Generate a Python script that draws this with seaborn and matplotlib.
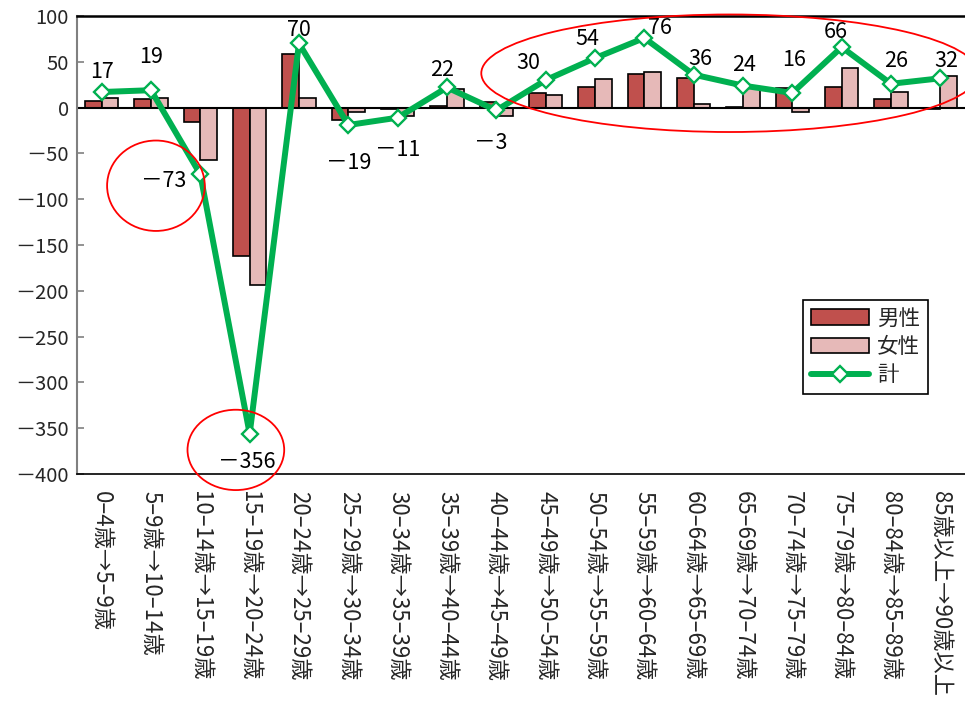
import numpy as np
import pandas as pd
import matplotlib
matplotlib.use("Agg")
import matplotlib.pyplot as plt
from matplotlib.patches import Ellipse
from matplotlib.ticker import FuncFormatter
import seaborn as sns

# Age-group transitions (cohort change)
categories = [
    "0–4歳→5–9歳", "5–9歳→10–14歳", "10–14歳→15–19歳", "15–19歳→20–24歳",
    "20–24歳→25–29歳", "25–29歳→30–34歳", "30–34歳→35–39歳", "35–39歳→40–44歳",
    "40–44歳→45–49歳", "45–49歳→50–54歳", "50–54歳→55–59歳", "55–59歳→60–64歳",
    "60–64歳→65–69歳", "65–69歳→70–74歳", "70–74歳→75–79歳", "75–79歳→80–84歳",
    "80–84歳→85–89歳", "85歳以上→90歳以上",
]
male = [7, 9, -16, -162, 59, -14, -2, 2, 6, 16, 23, 37, 32, 1, 21, 23, 9, -2]
female = [10, 10, -57, -194, 11, -5, -9, 20, -9, 14, 31, 39, 4, 23, -5, 43, 17, 34]
total = [17, 19, -73, -356, 70, -19, -11, 22, -3, 30, 54, 76, 36, 24, 16, 66, 26, 32]

series_names = ["男性", "女性"]
line_name = "計"
yticks = list(range(-400, 101, 50))

# label offsets in pixels (dx, dy) relative to each point on the total line
label_offsets = [(0, 20), (0, 33), (-37, -7), (-3, -28), (0, 13), (0, -38),
                 (0, -32), (-5, 17), (-6, -33), (-17, 17), (-8, 19), (16, 10),
                 (7, 16), (1, 21), (2, 33), (-6, 15), (5, 23), (6, 17)]

sns.set_theme(style="white")
plt.rcParams["font.family"] = ["Noto Sans CJK JP", "DejaVu Sans"]


def signed(v):
    return f"{v:g}".replace("-", "－")


df = pd.DataFrame({
    "区分": categories * 2,
    "性別": [series_names[0]] * len(categories) + [series_names[1]] * len(categories),
    "人数": male + female,
})

fig = plt.figure(figsize=(9.65, 7.02), dpi=100)
ax = fig.add_axes([77 / 965, 1 - 474 / 702, 1 - 77 / 965, (474 - 16) / 702])

sns.barplot(data=df, x="区分", y="人数", hue="性別", hue_order=series_names,
            palette=["#C0504D", "#E6B9B8"], saturation=1, width=0.68, gap=0,
            edgecolor="black", linewidth=1.2, ax=ax)

x_pos = np.arange(len(categories))
sns.lineplot(x=x_pos, y=total, color="#00B050", linewidth=4.3, marker="D",
             markersize=8.5, markerfacecolor="white", markeredgecolor="#00B050",
             markeredgewidth=1.7, label=line_name, ax=ax, zorder=5)

ax.axhline(0, color="black", linewidth=1.5, zorder=2)

for xi, val, (dx, dy) in zip(x_pos, total, label_offsets):
    ax.annotate(signed(val), (xi, val), xytext=(dx, dy),
                textcoords="offset pixels", ha="center", va="center",
                fontsize=15.5, color="black", zorder=6)

# red emphasis ellipses
for cx, cy, w, h in [(12.73, 37.5, 10.07, 128.3), (1.10, -85.3, 1.98, 98.7),
                     (2.72, -373.7, 1.96, 87.7)]:
    ax.add_patch(Ellipse((cx, cy), w, h, fill=False, edgecolor="red",
                         linewidth=1.3, clip_on=False, zorder=7))

ax.set_xlim(-0.5, len(categories) - 0.5)
ax.set_ylim(-400, 100)
ax.set_yticks(yticks)
ax.yaxis.set_major_formatter(FuncFormatter(lambda v, _: signed(v)))
ax.set_xlabel("")
ax.set_ylabel("")
ax.tick_params(axis="y", direction="in", length=5, width=1.2, color="#808080",
               labelsize=14.5, pad=6, left=True)
ax.tick_params(axis="x", length=0, labelsize=16, pad=12)
for lbl in ax.get_xticklabels():
    lbl.set_rotation(-90)
    lbl.set_va("top")
    lbl.set_ha("center")

ax.spines["left"].set_color("#808080")
ax.spines["left"].set_linewidth(1.5)
ax.spines["top"].set_color("black")
ax.spines["top"].set_linewidth(1.8)
ax.spines["bottom"].set_color("black")
ax.spines["bottom"].set_linewidth(1.2)
ax.spines["right"].set_visible(False)

handles, labels = ax.get_legend_handles_labels()
leg = ax.legend(handles, labels, loc="upper left",
                bbox_to_anchor=(803 / 965, 1 - 300 / 702),
                bbox_transform=fig.transFigure, borderaxespad=0,
                fontsize=15.5, frameon=True,
                fancybox=False, edgecolor="black", framealpha=1,
                handlelength=2.7, handleheight=0.7, borderpad=0.35,
                labelspacing=0.3, handletextpad=0.4)
leg.get_frame().set_linewidth(1.2)

fig.savefig("out.png", dpi=100)
